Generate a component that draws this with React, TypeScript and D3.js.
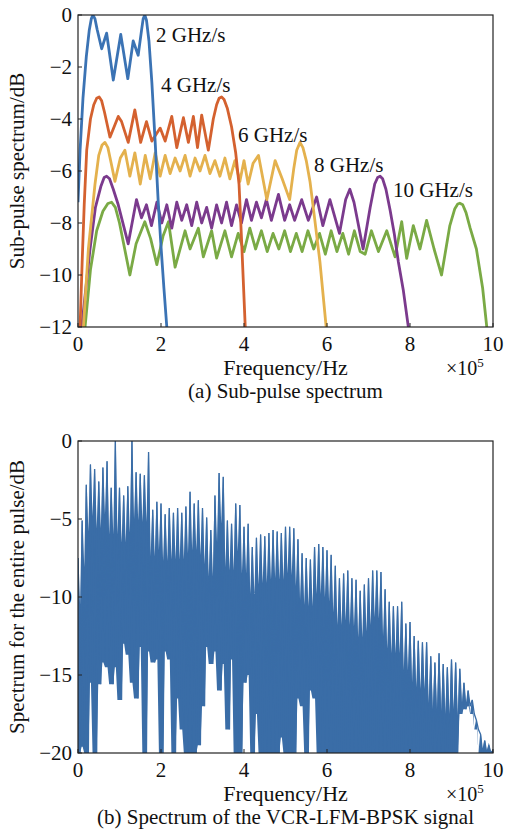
import React from "react";
import * as d3 from "d3";

// ---------- data ----------
const freqTicks = [0, 2, 4, 6, 8, 10];
const subPulseTicks = [0, -2, -4, -6, -8, -10, -12];
const fullPulseTicks = [0, -5, -10, -15, -20];
const rateLabels = ["2 GHz/s", "4 GHz/s", "6 GHz/s", "8 GHz/s", "10 GHz/s"];

// sub-pulse spectra: [frequency (x1e5 Hz), dB]
const rate2: [number, number][] = [
  [0.0, -7.2], [0.05, -5.2], [0.12, -3.2], [0.2, -1.6], [0.27, -0.6], [0.32, -0.15], [0.36, 0],
  [0.41, -0.15], [0.46, -0.55], [0.57, -1.3], [0.69, -0.7], [0.85, -2.5], [1.03, -0.75],
  [1.2, -2.45], [1.33, -1.0], [1.45, -1.55], [1.53, -0.6], [1.57, -0.15], [1.61, 0],
  [1.65, -0.2], [1.71, -1.0], [1.78, -2.6], [1.86, -4.9], [1.93, -7.1], [2.0, -8.9],
  [2.07, -10.5], [2.14, -12.0], [2.2, -13.5],
];
const rate4: [number, number][] = [
  [0.03, -13], [0.05, -12], [0.1, -9.5], [0.15, -7.3], [0.21, -5.2], [0.3, -4.0], [0.38, -3.45],
  [0.45, -3.2], [0.51, -3.15], [0.57, -3.3], [0.64, -3.75], [0.77, -4.7], [0.97, -3.9],
  [1.05, -4.1], [1.21, -4.9], [1.37, -3.65], [1.51, -4.9], [1.65, -4.1], [1.78, -4.85],
  [1.98, -4.35], [2.1, -4.85], [2.26, -3.9], [2.38, -5.1], [2.54, -3.95], [2.66, -4.9],
  [2.78, -3.9], [2.88, -5.1], [2.98, -3.85], [3.14, -5.2], [3.26, -4.0], [3.34, -3.45],
  [3.4, -3.2], [3.46, -3.15], [3.52, -3.25], [3.6, -3.6], [3.7, -4.3], [3.8, -5.3],
  [3.88, -6.5], [3.94, -8.6], [4.03, -12], [4.06, -13],
];
const rate6: [number, number][] = [
  [0.1, -13], [0.13, -12], [0.25, -9.0], [0.41, -6.5], [0.5, -5.4], [0.58, -5.0], [0.65, -4.9],
  [0.72, -5.1], [0.8, -5.7], [0.89, -6.4], [1.02, -5.5], [1.13, -5.2], [1.25, -6.2],
  [1.37, -5.3], [1.5, -6.5], [1.62, -5.4], [1.74, -6.3], [1.86, -5.3], [1.98, -6.2],
  [2.1, -5.4], [2.22, -6.1], [2.34, -5.5], [2.46, -6.0], [2.58, -5.4], [2.7, -6.2],
  [2.82, -5.5], [2.94, -6.0], [3.06, -5.4], [3.18, -6.1], [3.3, -5.6], [3.42, -6.2],
  [3.54, -5.5], [3.66, -6.3], [3.78, -5.6], [3.9, -6.4], [4.0, -5.6], [4.1, -6.5],
  [4.22, -5.7], [4.35, -5.4], [4.55, -7.1], [4.75, -5.6], [4.92, -6.3], [5.1, -7.1],
  [5.2, -5.9], [5.27, -5.2], [5.35, -4.9], [5.42, -5.1], [5.5, -5.6], [5.59, -6.4],
  [5.7, -7.8], [5.83, -9.5], [5.98, -12], [6.02, -13],
];
const rate8: [number, number][] = [
  [0.06, -13], [0.09, -12], [0.29, -9.0], [0.42, -7.4], [0.55, -6.6], [0.63, -6.25],
  [0.69, -6.2], [0.76, -6.3], [0.85, -6.7], [0.97, -7.3], [1.21, -8.8], [1.41, -7.1],
  [1.53, -7.8], [1.65, -7.3], [1.77, -8.1], [1.9, -7.2], [2.02, -8.0], [2.14, -7.3],
  [2.26, -8.2], [2.38, -7.2], [2.5, -7.9], [2.62, -7.3], [2.74, -8.1], [2.86, -7.2],
  [2.98, -8.0], [3.1, -7.4], [3.22, -8.2], [3.34, -7.3], [3.46, -8.0], [3.58, -7.2],
  [3.7, -8.1], [3.82, -7.3], [3.94, -8.0], [4.06, -7.1], [4.18, -7.9], [4.3, -7.2],
  [4.42, -7.8], [4.54, -7.1], [4.66, -7.9], [4.83, -6.9], [4.98, -7.9], [5.1, -7.3],
  [5.22, -7.9], [5.39, -7.1], [5.55, -7.9], [5.75, -7.0], [5.9, -8.1], [6.07, -7.1],
  [6.3, -8.4], [6.45, -7.1], [6.55, -6.7], [6.65, -7.2], [6.87, -9.0], [7.04, -7.4],
  [7.15, -6.5], [7.22, -6.25], [7.28, -6.2], [7.34, -6.3], [7.42, -6.7], [7.52, -7.5],
  [7.62, -8.4], [7.72, -9.5], [7.84, -10.6], [7.96, -12], [8.0, -13],
];
const rate10: [number, number][] = [
  [0.14, -13], [0.17, -12], [0.3, -9.8], [0.45, -8.3], [0.6, -7.55], [0.72, -7.25],
  [0.81, -7.2], [0.9, -7.4], [1.0, -8.0], [1.1, -8.8], [1.25, -10.0], [1.4, -8.8],
  [1.61, -7.95], [1.75, -8.6], [1.9, -9.6], [2.05, -8.5], [2.18, -7.95], [2.34, -9.7],
  [2.58, -8.3], [2.7, -9.0], [2.9, -8.2], [3.02, -9.3], [3.22, -8.3], [3.34, -9.35],
  [3.54, -8.3], [3.7, -9.3], [3.86, -8.4], [4.0, -9.1], [4.14, -8.2], [4.28, -9.0],
  [4.42, -8.3], [4.56, -9.1], [4.7, -8.4], [4.84, -9.0], [4.98, -8.3], [5.12, -9.1],
  [5.26, -8.4], [5.4, -9.1], [5.54, -8.3], [5.68, -9.0], [5.82, -8.4], [5.96, -9.2],
  [6.1, -8.3], [6.24, -9.1], [6.38, -8.4], [6.52, -9.2], [6.66, -8.3], [6.8, -9.1],
  [6.92, -9.2], [7.07, -8.3], [7.24, -9.1], [7.44, -8.3], [7.64, -9.3], [7.8, -7.95],
  [7.92, -9.36], [8.08, -8.1], [8.24, -9.0], [8.4, -7.9], [8.58, -9.0], [8.76, -10.0],
  [8.96, -8.1], [9.08, -7.45], [9.15, -7.27], [9.2, -7.24], [9.27, -7.3], [9.35, -7.6],
  [9.45, -8.2], [9.6, -9.0], [9.75, -10.5], [9.85, -12], [9.9, -13],
];

// entire pulse spectrum, sampled every 0.1 (x1e5 Hz): spike tops and dip bottoms
const fullStart = 0;
const fullStep = 0.1;
const fullPeak = [
  -7.5, -5.1, -2.8, -1.5, -1.8, -2.6, -1.7, -1.3, -3.0, 0, -3.0,
  -3.5, -2.9, 0, -2.0, -2.1, -2.2, -0.7, -4.4, -3.9, -4.0,
  -4.7, -4.3, -4.6, -4.3, -4.6, -4.2, -3.25, -4.0, -3.8, -4.3,
  -4.9, -5.7, -3.5, -2.05, -2.3, -5.1, -5.3, -4.0, -4.1, -5.5,
  -5.3, -6.8, -6.2, -6.0, -6.1, -5.9, -5.7, -5.8, -5.9, -5.5,
  -5.5, -5.6, -6.3, -7.2, -7.5, -7.6, -6.8, -6.6, -6.8, -7.0,
  -7.3, -8.0, -8.8, -8.5, -8.3, -8.8, -8.9, -9.6, -9.2, -8.8,
  -8.3, -8.3, -8.4, -9.5, -10.3, -10.6, -10.6, -10.3, -11.7, -11.6,
  -12.5, -12.8, -12.9, -12.9, -13.8, -14.2, -13.6, -14.3, -14.5, -14.0,
  -14.2, -14.6, -15.5, -16.0, -16.6, -17.9, -18.8, -19.2, -19.5, -19.8,
];
const fullFloor = [
  -20, -19.6, -20, -15.5, -20, -15.6, -14.2, -14.5, -15.6, -14.5, -16.6,
  -13.0, -13.7, -15.5, -16.5, -13.2, -20, -13.5, -14.2, -14.0, -20,
  -13.5, -14.0, -20, -16.5, -18.5, -20, -20, -20, -19.5, -17.0,
  -13.2, -14.3, -13.5, -16.0, -14.3, -18.5, -14.0, -20, -20, -15.5,
  -15.0, -20, -17.5, -20, -20, -20, -20, -20, -19.0, -20,
  -20, -20, -16.5, -17.0, -20, -16.0, -16.5, -20, -20, -20,
  -20, -20, -20, -20, -20, -20, -20, -20, -20, -20,
  -20, -20, -20, -20, -20, -20, -20, -20, -20, -20,
  -20, -20, -20, -20, -20, -20, -20, -20, -20, -20,
  -20, -17.5, -17.2, -17.0, -17.5, -18.5, -20, -20, -20, -20, -20,
];

// ---------- layout ----------
const W = 505;
const H = 833;
const X0 = 78;
const X1 = 493;
const TOP = { y0: 15, y1: 327 };
const BOT = { y0: 441, y1: 753 };
const FONT = "'Liberation Serif', 'Times New Roman', serif";
const seriesColors = ["#3b73b4", "#d4612f", "#e4b14d", "#7b3a8d", "#7aaa45"];
const fullColor = "#3a6da7";
const bodyDrop = 3; // dB gap between neighbouring spikes
const labelPos: [number, number][] = [
  [156, 42], [161, 92], [238, 142], [314, 172], [393, 197],
];

const xScale = d3.scaleLinear().domain([0, 10]).range([X0, X1]);
const yTop = d3.scaleLinear().domain([-12, 0]).range([TOP.y1, TOP.y0]);
const yBot = d3.scaleLinear().domain([-20, 0]).range([BOT.y1, BOT.y0]);

function Axes({ y0, y1, yScale, yTicks, yLabel, caption }: any) {
  return (
    <g fontFamily={FONT} fill="#111">
      <rect x={X0} y={y0} width={X1 - X0} height={y1 - y0} fill="none" stroke="#222" strokeWidth={1.2} />
      {freqTicks.map((t) => (
        <g key={"x" + t}>
          <line x1={xScale(t)} x2={xScale(t)} y1={y1} y2={y1 - 4} stroke="#222" strokeWidth={1} />
          <text x={xScale(t)} y={y1 + 24} fontSize={21} textAnchor="middle">{t}</text>
        </g>
      ))}
      {yTicks.map((t: number) => (
        <g key={"y" + t}>
          <line x1={X0} x2={X0 + 4} y1={yScale(t)} y2={yScale(t)} stroke="#222" strokeWidth={1} />
          <text x={72} y={yScale(t) + 7} fontSize={21} textAnchor="end">{t < 0 ? "\u2212" + Math.abs(t) : t}</text>
        </g>
      ))}
      <text x={(X0 + X1) / 2} y={y1 + 48} fontSize={22} textAnchor="middle">Frequency/Hz</text>
      <text x={446} y={y1 + 48} fontSize={20}>
        ×10<tspan fontSize={13} dy={-8}>5</tspan>
      </text>
      <text x={(X0 + X1) / 2} y={y1 + 71} fontSize={21} textAnchor="middle">{caption}</text>
      <text transform={`translate(24,${(y0 + y1) / 2}) rotate(-90)`} fontSize={21} textAnchor="middle">{yLabel}</text>
    </g>
  );
}

export default function App() {
  const line = d3
    .line<[number, number]>()
    .x((d) => xScale(d[0]))
    .y((d) => yTop(d[1]))
    .curve(d3.curveLinear);
  const series = [rate2, rate4, rate6, rate8, rate10];
  const order = [4, 3, 2, 1, 0];

  // spectrum: spikes at each sample, valleys between them, floor below
  type P = { f: number; top: number; bot: number };
  const pts: P[] = [];
  fullPeak.forEach((p, i) => {
    const f = fullStart + i * fullStep;
    pts.push({ f: f - fullStep * 0.12, top: p, bot: fullFloor[i] });
    pts.push({ f: f + fullStep * 0.12, top: p, bot: fullFloor[i] });
    if (i < fullPeak.length - 1) {
      const valley = Math.max(Math.min(p, fullPeak[i + 1]) - bodyDrop, -20);
      const fl = Math.min(fullFloor[i], fullFloor[i + 1]);
      pts.push({ f: f + fullStep / 2, top: Math.max(valley, fl), bot: fl });
    }
  });
  const area = d3
    .area<P>()
    .x((d) => xScale(d.f))
    .y0((d) => yBot(d.bot))
    .y1((d) => yBot(d.top));
  const zig: [number, number][] = [];
  fullPeak.forEach((p, i) => {
    const f = fullStart + i * fullStep;
    zig.push([f, p]);
    zig.push([f + fullStep / 2, fullFloor[i]]);
  });
  const zigLine = d3
    .line<[number, number]>()
    .x((d) => xScale(d[0]))
    .y((d) => yBot(d[1]));

  return (
    <svg width={W} height={H} style={{ position: "absolute", left: 0, top: 0, background: "#fff" }}>
      <defs>
        <clipPath id="clipTop">
          <rect x={X0} y={TOP.y0} width={X1 - X0} height={TOP.y1 - TOP.y0} />
        </clipPath>
        <clipPath id="clipBot">
          <rect x={X0} y={BOT.y0} width={X1 - X0} height={BOT.y1 - BOT.y0} />
        </clipPath>
      </defs>
      <rect width={W} height={H} fill="#fff" />
      <g clipPath="url(#clipTop)">
        {order.map((k) => (
          <path key={k} d={line(series[k]) || ""} fill="none" stroke={seriesColors[k]} strokeWidth={2.8} strokeLinejoin="round" />
        ))}
      </g>
      <g fontFamily={FONT} fontSize={21} fill="#111">
        {rateLabels.map((t, i) => (
          <text key={t} x={labelPos[i][0]} y={labelPos[i][1]}>{t}</text>
        ))}
      </g>
      <g clipPath="url(#clipBot)">
        <path d={area(pts) || ""} fill={fullColor} stroke="none" />
        <path d={zigLine(zig) || ""} fill="none" stroke={fullColor} strokeWidth={1.3} />
      </g>
      <Axes y0={TOP.y0} y1={TOP.y1} yScale={yTop} yTicks={subPulseTicks} yLabel="Sub-pulse spectrum/dB" caption="(a) Sub-pulse spectrum" />
      <Axes y0={BOT.y0} y1={BOT.y1} yScale={yBot} yTicks={fullPulseTicks} yLabel="Spectrum for the entire pulse/dB" caption="(b) Spectrum of the VCR-LFM-BPSK signal" />
    </svg>
  );
}
